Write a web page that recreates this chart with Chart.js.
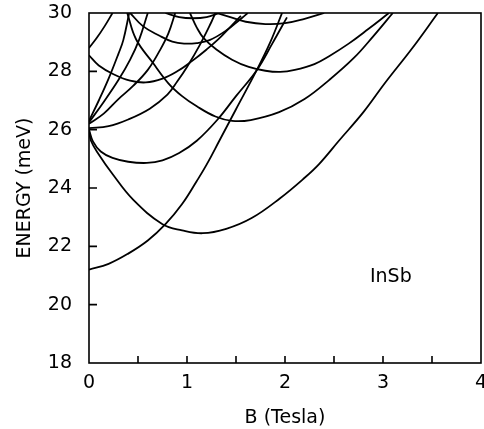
<!DOCTYPE html>
<html>
<head>
<meta charset="utf-8">
<script src="https://cdn.jsdelivr.net/npm/chart.js@4.4.1/dist/chart.umd.min.js"></script>
<style>
  html, body { margin: 0; padding: 0; background: #fff; }
</style>
</head>
<body>
<canvas id="chart" width="484" height="429"></canvas>
<script>
// curves, each point is [B (Tesla), energy (meV)]
var lineFrom21 = [[0,21.2],[0.2,21.4],[0.4,21.75],[0.6,22.2],[0.78,22.76],[0.95,23.45],[1.1,24.24],[1.2,24.8],[1.33,25.62],[1.5,26.7],[1.71,28.03],[1.85,29.0],[1.97,30]];
var lowArc = [[0,26],[0.02,25.62],[0.1,25.15],[0.24,24.48],[0.45,23.6],[0.75,22.76],[0.95,22.55],[1.16,22.45],[1.4,22.6],[1.66,22.97],[1.95,23.65],[2.2,24.35],[2.35,24.83],[2.55,25.62],[2.8,26.6],[3.02,27.6],[3.3,28.8],[3.56,30]];
var secondArc = [[0,26],[0.04,25.6],[0.12,25.25],[0.24,25.03],[0.4,24.9],[0.59,24.86],[0.75,24.95],[0.92,25.2],[1.1,25.62],[1.31,26.34],[1.5,27.15],[1.71,28.03],[1.87,28.95],[2.02,29.85]];
var arcC = [[0.39,30],[0.48,29.1],[0.65,28.3],[0.81,27.59],[0.95,27.15],[1.1,26.8],[1.29,26.45],[1.46,26.3],[1.65,26.33],[1.94,26.6],[2.2,27.05],[2.45,27.7],[2.7,28.45],[2.9,29.2],[3.1,30]];
var arcD = [[1.03,30],[1.1,29.5],[1.17,29.14],[1.3,28.75],[1.46,28.4],[1.63,28.15],[1.8,28.02],[1.95,27.98],[2.1,28.05],[2.3,28.25],[2.45,28.52],[2.65,28.95],[2.85,29.45],[3.06,30]];
var arcE = [[1.3,30],[1.45,29.85],[1.6,29.7],[1.8,29.62],[2.0,29.65],[2.2,29.8],[2.4,30]];
var arcF = [[0.42,30],[0.55,29.55],[0.72,29.22],[0.85,29.02],[0.97,28.95],[1.1,28.97],[1.23,29.07],[1.4,29.4],[1.56,29.83],[1.62,30]];
var arcK = [[0.78,30],[0.92,29.86],[1.06,29.82],[1.2,29.86],[1.33,30]];
var arcG = [[0,28.55],[0.1,28.2],[0.25,27.9],[0.42,27.68],[0.58,27.62],[0.75,27.75],[0.9,28.0],[1.05,28.35],[1.2,28.75],[1.35,29.2],[1.55,29.9]];
var riseH = [[0,26.05],[0.2,26.12],[0.4,26.35],[0.62,26.72],[0.8,27.2],[0.9,27.65],[1.0,28.15],[1.13,28.9],[1.25,29.7],[1.29,30]];
var riseA = [[0,26.3],[0.1,27.0],[0.2,27.75],[0.3,28.6],[0.35,29.07],[0.41,30]];
var riseB = [[0,26.25],[0.15,26.95],[0.3,27.7],[0.42,28.4],[0.51,29.07],[0.6,30]];
var riseC = [[0,26.2],[0.15,26.55],[0.3,27.05],[0.45,27.5],[0.6,28.05],[0.72,28.7],[0.81,29.3],[0.88,30]];
var riseTop = [[0,28.8],[0.08,29.15],[0.16,29.55],[0.24,30]];

var xTicks = [0, 1, 2, 3, 4];
var yTicks = [18, 20, 22, 24, 26, 28, 30];

var curves = [lineFrom21, lowArc, secondArc, arcC, arcD, arcE, arcF, arcK, arcG, riseH, riseA, riseB, riseC, riseTop];

var datasets = [];
for (var i = 0; i < curves.length; i++) {
    datasets.push({
        data: curves[i].map(function(p){ return {x: p[0], y: p[1]}; }),
        borderColor: '#000',
        borderWidth: 1.8,
        pointRadius: 0,
        tension: 0.4,
        fill: false,
        clip: 0
    });
}

var fontName = "'DejaVu Sans', sans-serif";

function noPad(s) {
    s.paddingLeft = 0;
    s.paddingRight = 0;
    s.paddingTop = 0;
    s.paddingBottom = 0;
}

// box around the plot, inward ticks and the InSb label
var frame = {
    id: 'frame',
    afterDraw: function(chart) {
        var ctx = chart.ctx;
        var a = chart.chartArea;
        var xs = chart.scales.x, ys = chart.scales.y;
        ctx.save();
        ctx.strokeStyle = '#000';
        ctx.lineWidth = 1.6;
        ctx.strokeRect(a.left, a.top, a.right - a.left, a.bottom - a.top);
        ctx.beginPath();
        for (var v = 0.5; v < 4; v += 0.5) {
            var px = xs.getPixelForValue(v);
            ctx.moveTo(px, a.bottom);
            ctx.lineTo(px, a.bottom - 7);
        }
        for (var w = 20; w < 30; w += 2) {
            var py = ys.getPixelForValue(w);
            ctx.moveTo(a.left, py);
            ctx.lineTo(a.left + 8, py);
        }
        ctx.stroke();
        ctx.fillStyle = '#000';
        ctx.font = "19px " + fontName;
        ctx.textAlign = 'center';
        ctx.textBaseline = 'middle';
        ctx.fillText('InSb', xs.getPixelForValue(3.08), ys.getPixelForValue(20.95));
        ctx.restore();
    }
};

var ctx = document.getElementById('chart').getContext('2d');
var chart = new Chart(ctx, {
    type: 'line',
    data: { datasets: datasets },
    options: {
        responsive: false,
        animation: false,
        devicePixelRatio: 1,
        layout: { padding: { top: 13, right: 3, left: 0, bottom: 0 } },
        plugins: { legend: { display: false }, tooltip: { enabled: false } },
        scales: {
            x: {
                type: 'linear',
                min: 0,
                max: 4,
                afterFit: function(s){ s.height = 66; noPad(s); },
                afterBuildTicks: function(s){ s.ticks = xTicks.map(function(v){ return {value: v}; }); },
                grid: { display: false },
                border: { display: false },
                ticks: { color: '#000', padding: 1, autoSkip: false, maxRotation: 0, font: { family: fontName, size: 19 } },
                title: { display: true, text: 'B (Tesla)', color: '#000', padding: { top: 0, bottom: 0 }, font: { family: fontName, size: 19 } }
            },
            y: {
                type: 'linear',
                min: 18,
                max: 30,
                afterFit: function(s){ s.width = 89; noPad(s); },
                afterBuildTicks: function(s){ s.ticks = yTicks.map(function(v){ return {value: v}; }); },
                grid: { display: false },
                border: { display: false },
                ticks: { color: '#000', padding: 9, font: { family: fontName, size: 19 } },
                title: { display: true, text: 'ENERGY (meV)', color: '#000', padding: { top: 14, bottom: 0 }, font: { family: fontName, size: 19 } }
            }
        }
    },
    plugins: [frame]
});
</script>
</body>
</html>
